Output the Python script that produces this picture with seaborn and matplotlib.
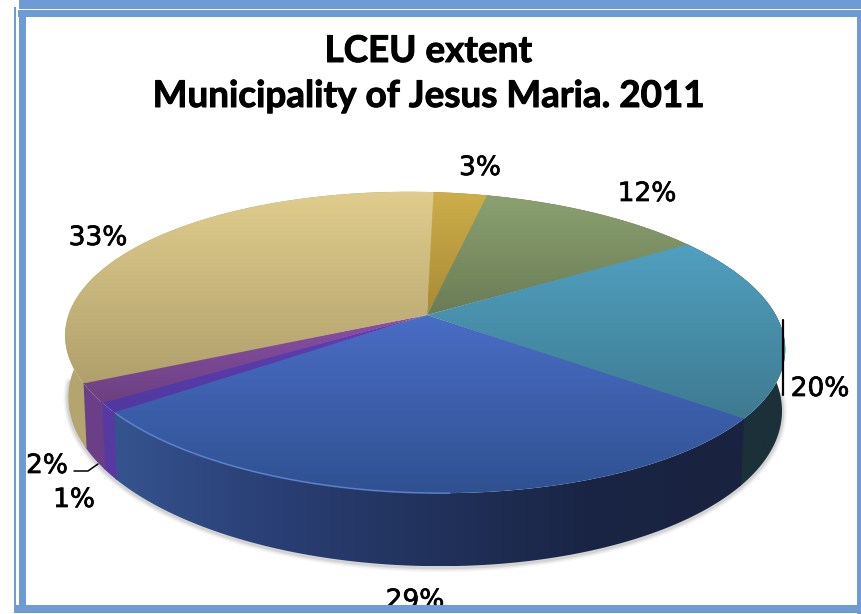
import numpy as np
import matplotlib
matplotlib.use("Agg")
import matplotlib.pyplot as plt
import matplotlib.patheffects as pe
from matplotlib.colors import LinearSegmentedColormap
from matplotlib.patches import Polygon, Rectangle
import seaborn as sns

# Shares of the LCEU extent, clockwise from twelve o'clock
slice_shares = [3, 12, 20, 29, 1, 2, 33]
share_labels = ["3%", "12%", "20%", "29%", "1%", "2%", "33%"]
title_lines = ["LCEU extent", "Municipality of Jesus Maria. 2011"]

# Top-face gradient per slice (upper colour, lower colour)
top_light = sns.color_palette(["#cdae4a", "#8ba170", "#50a0c0", "#4a6dc6", "#6040b0", "#8a50a8", "#e0cd8d"])
top_dark = sns.color_palette(["#a88a35", "#6a7c55", "#3e7a90", "#2f5191", "#5038a0", "#6b4080", "#b0a06b"])
# Outer-wall shading per slice, left to right along the rim
wall_stops = [
    ["#8f7a30", "#8f7a30"],
    ["#56663f", "#56663f"],
    ["#1b343e", "#1b3038"],
    ["#35548f", "#2a3f75", "#21325c", "#1a2545", "#19233f"],
    ["#563aa0", "#563aa0"],
    ["#6a3f88", "#6a3f88"],
    ["#b5a670", "#a89a62"],
]

FRAME_BLUE = "#6f9bd4"
W, H = 861, 614

# Perspective view of the disc, in figure pixels
CX, CY = 427.0, 315.0
RX, RY = 354.0, 145.5
ROLL = 7.0
TILT = 0.1827
SWING = 0.005
DEPTH = 59.7
START_ANGLE = 1.0
OVERLAP = 0.25


def project(theta_deg, level=0.0):
    """Map a clockwise angle on the rim to the view; level 1 is the base of the disc."""
    t = np.radians(theta_deg)
    w = 1 + TILT * np.cos(t) + SWING * np.sin(t)
    x = CX + (1 - 0.009 * level) * RX * np.sin(t) / w
    y = CY + (ROLL * np.sin(t) - RY * np.cos(t) + level * DEPTH) / w
    return x, y


def gradient_fill(axis, vertices, colours, vertical, zorder):
    """Paint a colour ramp over the bounding box of a polygon and clip it to the polygon."""
    outline = Polygon(vertices, closed=True, facecolor="none", edgecolor="none")
    axis.add_patch(outline)
    cmap = LinearSegmentedColormap.from_list("ramp", colours)
    ramp = cmap(np.linspace(0, 1, 256))[:, :3]
    ramp = ramp[:, None, :] if vertical else ramp[None, :, :]
    xs, ys = vertices[:, 0], vertices[:, 1]
    img = axis.imshow(ramp, extent=[xs.min(), xs.max(), ys.max(), ys.min()], aspect="auto",
                      interpolation="bilinear", zorder=zorder)
    img.set_clip_path(outline)


def rim_angles(i):
    """Angles along the rim of slice i, widened a touch so neighbours leave no seam."""
    a0, a1 = edges[i] - OVERLAP, edges[i + 1] + OVERLAP
    return np.linspace(a0, a1, max(int((a1 - a0) * 2), 3))


sns.set_theme(style="white")
fig = plt.figure(figsize=(W / 100, H / 100), dpi=100, facecolor="white")
ax = fig.add_axes([0, 0, 1, 1])
ax.set_axis_off()

edges = START_ANGLE + 360 * np.concatenate([[0], np.cumsum(slice_shares)]) / sum(slice_shares)

# Soft shadow under the front rim
front = np.linspace(95, 265, 200)
sx, sy = project(front, 1)
for lw, alpha in [(7, 0.05), (5, 0.07), (3, 0.12)]:
    ax.plot(sx, sy + 1, color="#404040", lw=lw, alpha=alpha, zorder=1, solid_capstyle="round")

# Outer wall: a horizontal ramp clipped to the band between top and base rims
for i, stops in enumerate(wall_stops):
    a = rim_angles(i)
    xt, yt = project(a, 0)
    xb, yb = project(a, 1)
    band = np.c_[np.r_[xt, xb[::-1]], np.r_[yt, yb[::-1]]]
    gradient_fill(ax, band, stops, vertical=False, zorder=2)

# Top face: a vertical ramp clipped to each wedge
for i in range(len(slice_shares)):
    xr, yr = project(rim_angles(i), 0)
    wedge = np.c_[np.r_[CX, xr], np.r_[CY, yr]]
    gradient_fill(ax, wedge, [top_light[i], top_dark[i]], vertical=True, zorder=3)

# Light catching the front edge of the large blue wedge
hl = np.linspace(edges[3] + 50, edges[4] - 1, 120)
hx, hy = project(hl, 0)
ax.plot(hx, hy, color="#5f86d0", lw=1.2, alpha=0.8, zorder=4)

ax.set_xlim(0, W)
ax.set_ylim(H, 0)

# Percentage labels and their leader lines
label_xy = [(480, 168), (647, 194), (820, 389), (415, 601), (74, 500), (47, 466), (98, 238)]
heavier = [pe.withStroke(linewidth=0.5, foreground="black")]
for text, (lx, ly) in zip(share_labels, label_xy):
    ax.text(lx, ly, text, ha="center", va="center", fontsize=19, color="black",
            family="DejaVu Sans", zorder=5, path_effects=heavier)
ax.plot([783, 783], [320, 395], color="black", lw=1.6, zorder=5)
ax.plot([74, 88, 98], [471, 471, 464], color="black", lw=1.1, zorder=5)

title_heavy = [pe.withStroke(linewidth=0.7, foreground="black")]
for line, baseline in zip(title_lines, (62, 107)):
    ax.text(428, baseline, line, ha="center", va="baseline", fontsize=26.5, fontweight="bold",
            family="Lato", color="black", zorder=5, path_effects=title_heavy)

# Double blue border around the chart area
bands = [
    (19, 0, W - 19, 9),
    (18, 10, W - 18, 7),
    (14, 7, 2, 606),
    (19, 10, 7, 603),
    (857, 10, 4, 604),
    (14, 605, W - 14, 8),
]
for bx, by, bw, bh in bands:
    ax.add_patch(Rectangle((bx, by), bw, bh, facecolor=FRAME_BLUE, edgecolor="none", zorder=6))

fig.savefig("out.png", dpi=100, facecolor="white")
